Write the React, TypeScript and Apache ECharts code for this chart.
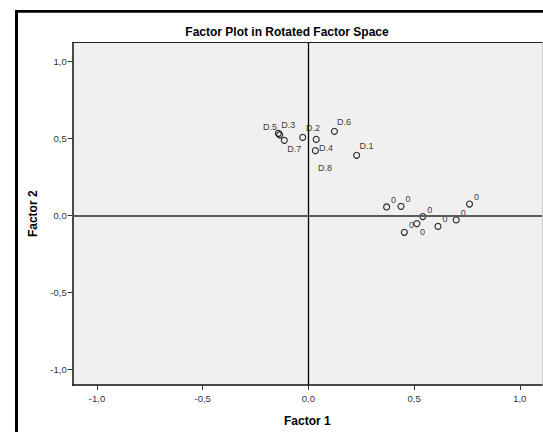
import React, { useEffect, useRef } from 'react';
import * as echarts from 'echarts';

// Data
const pointLabels = ['D.1', 'D.2', 'D.3', 'D.4', 'D.5', 'D.6', 'D.7', 'D.8', '0', '0', '0', '0', '0', '0', '0', '0'];
const factor1 = [0.228, -0.027, -0.136, 0.037, -0.142, 0.123, -0.114, 0.033, 0.370, 0.438, 0.541, 0.513, 0.454, 0.613, 0.699, 0.762];
const factor2 = [0.389, 0.505, 0.522, 0.492, 0.531, 0.544, 0.486, 0.419, 0.054, 0.058, -0.008, -0.054, -0.110, -0.072, -0.030, 0.073];
const tickValues = [-1, -0.5, 0, 0.5, 1];

// Label placement (label centre offset from point, px)
const labelOffsets: [number, number][] = [
  [10, -9.3], [10.3, -9.6], [8.6, -9.7], [9.7, 9], [-8.3, -6.6], [9.7, -9.6], [10, 9], [9.7, 17],
  [7, -7], [7, -7], [7, -7], [5.7, 8.7], [7, -7], [7, -7], [7, -7], [7, -7],
];

const FONT = '"Liberation Sans", Arial, sans-serif';
const fmt = (v: number) => v.toFixed(1).replace('.', ',');

export default function App() {
  const ref = useRef<HTMLDivElement>(null);
  useEffect(() => {
    if (!ref.current) return;
    const chart = echarts.init(ref.current, undefined, { renderer: 'svg' });
    const xMin = -1.115, xMax = 1.105, yMin = -1.1, yMax = 1.12;
    const data = factor1.map((x, i) => ({
      value: [x, factor2[i]],
      name: pointLabels[i],
      label: { offset: labelOffsets[i] },
    }));
    const axisLabelCommon = {
      color: '#333',
      fontSize: 9.5,
      fontFamily: FONT,
      formatter: fmt,
      customValues: tickValues,
    };
    chart.setOption({
      animation: false,
      backgroundColor: '#fff',
      title: {
        text: 'Factor Plot in Rotated Factor Space',
        left: 282,
        top: 21,
        textAlign: 'center',
        textStyle: { fontSize: 12, fontWeight: 'bold', color: '#000', fontFamily: FONT },
      },
      grid: {
        left: 72.7, top: 42.5, right: 1, bottom: 45.3,
        show: true, backgroundColor: '#f0f0f0', borderWidth: 0,
      },
      xAxis: [
        {
          type: 'value', min: xMin, max: xMax, position: 'bottom',
          name: 'Factor 1', nameLocation: 'middle', nameGap: 30,
          nameTextStyle: { fontSize: 12, fontWeight: 'bold', color: '#000', fontFamily: FONT },
          axisLine: { show: true, onZero: false, lineStyle: { color: '#111', width: 1.5 } },
          axisTick: { show: true, length: 5, customValues: tickValues, lineStyle: { color: '#333', width: 1 } },
          axisLabel: { ...axisLabelCommon, margin: 8 },
          splitLine: { show: false },
        },
        {
          type: 'value', min: xMin, max: xMax, position: 'top',
          axisLine: { show: true, onZero: false, lineStyle: { color: '#222', width: 1 } },
          axisTick: { show: false }, axisLabel: { show: false }, splitLine: { show: false },
        },
      ],
      yAxis: [
        {
          type: 'value', min: yMin, max: yMax, position: 'left',
          name: 'Factor 2', nameLocation: 'middle', nameGap: 25, nameRotate: 90,
          nameTextStyle: { fontSize: 12, fontWeight: 'bold', color: '#000', fontFamily: FONT },
          axisLine: { show: true, onZero: false, lineStyle: { color: '#111', width: 1.5 } },
          axisTick: { show: true, length: 5, customValues: tickValues, lineStyle: { color: '#333', width: 1 } },
          axisLabel: { ...axisLabelCommon, margin: 6 },
          splitLine: { show: false },
        },
        {
          type: 'value', min: yMin, max: yMax, position: 'right',
          axisLine: { show: true, onZero: false, lineStyle: { color: '#ccc', width: 1 } },
          axisTick: { show: false }, axisLabel: { show: false }, splitLine: { show: false },
        },
      ],
      graphic: [
        { type: 'rect', shape: { x: 15, y: 10, width: 3, height: 430 }, style: { fill: '#000' } },
        { type: 'rect', shape: { x: 15, y: 10, width: 540, height: 2.7 }, style: { fill: '#000' } },
      ],
      series: [
        {
          type: 'scatter',
          xAxisIndex: 0, yAxisIndex: 0,
          symbol: 'circle', symbolSize: 6,
          itemStyle: { color: 'rgba(0,0,0,0)', borderColor: '#000', borderWidth: 1.2 },
          label: {
            show: true, position: 'inside', formatter: '{b}',
            color: '#000', fontSize: 9, fontFamily: FONT,
          },
          data,
          markLine: {
            silent: true, symbol: 'none', label: { show: false },
            animation: false,
            data: [
              { xAxis: 0, lineStyle: { color: '#000', width: 1.3, type: 'solid' } },
              { yAxis: 0, lineStyle: { color: '#5a5a5a', width: 2, type: 'solid' } },
            ],
          },
          z: 3,
        },
      ],
    });
    return () => chart.dispose();
  }, []);
  return <div ref={ref} style={{ position: 'fixed', left: 0, top: 0, width: 543, height: 432 }} />;
}
